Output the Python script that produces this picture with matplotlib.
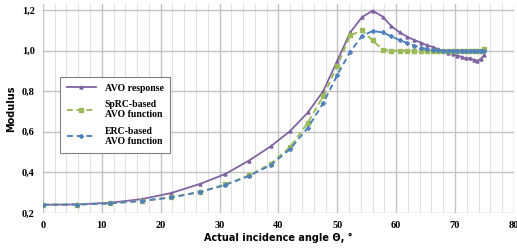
import numpy as np
import matplotlib
matplotlib.use("Agg")
import matplotlib.pyplot as plt
from matplotlib.ticker import MultipleLocator, FuncFormatter

# sample angles (deg), shared by all curves
angles = [0, 5.8, 11.4, 16.8, 21.8, 26.7, 31.0, 35.0, 38.7, 42.0, 45.0, 47.6,
          50.0, 52.2, 54.2, 56.0, 57.7, 59.2, 60.6, 61.9, 63.1, 64.2, 65.2,
          66.2, 67.1, 68.0, 68.8, 69.6, 70.4, 71.1, 71.8, 72.5, 73.2, 73.8,
          74.4, 75.0]

avo_response = [0.240, 0.242, 0.250, 0.268, 0.298, 0.343, 0.392, 0.458, 0.528,
                0.604, 0.695, 0.800, 0.950, 1.090, 1.165, 1.197, 1.168, 1.120,
                1.090, 1.068, 1.052, 1.040, 1.027, 1.018, 1.008, 0.998, 0.990,
                0.984, 0.976, 0.970, 0.962, 0.962, 0.955, 0.950, 0.960, 0.980]

sprc_avo = [0.240, 0.241, 0.247, 0.259, 0.277, 0.304, 0.340, 0.385, 0.442,
            0.525, 0.645, 0.775, 0.925, 1.075, 1.100, 1.050, 1.005, 1.000,
            1.000, 1.000, 1.000, 1.000, 1.000, 1.000, 1.000, 1.000, 1.000,
            1.000, 1.000, 1.000, 1.000, 1.000, 1.000, 1.000, 1.000, 1.008]

erc_avo = [0.240, 0.241, 0.247, 0.259, 0.276, 0.303, 0.338, 0.382, 0.436,
           0.515, 0.620, 0.740, 0.880, 0.995, 1.072, 1.097, 1.090, 1.070,
           1.052, 1.037, 1.025, 1.015, 1.008, 1.003, 1.001, 1.000, 1.000,
           1.000, 1.000, 1.000, 1.000, 1.000, 1.000, 1.000, 1.000, 1.000]

fig = plt.figure(figsize=(5.17, 2.49), dpi=100)
ax = fig.add_axes([0.083, 0.145, 0.911, 0.839])

ax.plot(angles, avo_response, color='#8064a2', lw=1.3, marker='^', ms=2.2,
        label='AVO response')
ax.plot(angles, sprc_avo, color='#9bbb59', lw=1.4, ls=(0, (3, 2)), marker='s', ms=2.2,
        label='SpRC-based\nAVO function')
ax.plot(angles, erc_avo, color='#4f81bd', lw=1.4, ls=(0, (3, 2)), marker='D', ms=2.0,
        label='ERC-based\nAVO function')

ax.set_xlim(0, 80)
ax.set_ylim(0.2, 1.23)
ax.xaxis.set_major_locator(MultipleLocator(10))
ax.xaxis.set_minor_locator(MultipleLocator(2))
ax.yaxis.set_major_locator(MultipleLocator(0.2))
ax.yaxis.set_major_formatter(FuncFormatter(lambda v, p: f"{v:.1f}".replace('.', ',')))

ax.grid(which='major', axis='both', color='#c4c4c4', lw=1.0)
ax.grid(which='minor', axis='x', color='#e2e2e2', lw=0.8)
ax.set_axisbelow(True)
for s in ax.spines.values():
    s.set_visible(False)
ax.tick_params(which='both', length=0, pad=6)
for lab in ax.get_xticklabels() + ax.get_yticklabels():
    lab.set_fontfamily('Liberation Serif')
    lab.set_fontweight('bold')
    lab.set_fontsize(7.5)

ax.set_xlabel('Actual incidence angle Θ, °', fontsize=7, fontweight='bold', labelpad=2)
ax.set_ylabel('Modulus', fontsize=7, fontweight='bold', labelpad=4)

leg = ax.legend(loc='upper left', bbox_to_anchor=(0.026, 0.675), frameon=True,
                fancybox=False, edgecolor='#808080', framealpha=1,
                prop={'family': 'Liberation Serif', 'weight': 'bold', 'size': 7},
                handlelength=3.0, handletextpad=0.9, labelspacing=0.75, borderpad=0.7)
leg.get_frame().set_linewidth(0.8)

fig.savefig('out.png', dpi=100)
